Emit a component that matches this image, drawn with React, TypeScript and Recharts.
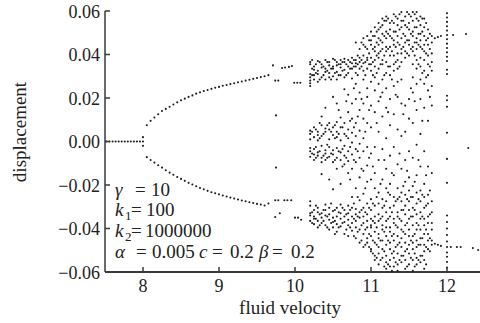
import React from "react";
import { ScatterChart, Scatter, XAxis, YAxis } from "recharts";

// ---- data ----
const xTicks = [8, 9, 10, 11, 12];
const yTicks = [-0.06, -0.04, -0.02, 0, 0.02, 0.04, 0.06];

const fixedVelocity = [7.52, 7.56, 7.6, 7.64, 7.68, 7.72, 7.76, 7.8, 7.84, 7.88, 7.92, 7.96, 8.0, 8.0, 8.0];
const fixedDisplacement = [0, 0, 0, 0, 0, 0, 0, 0, 0, 0, 0, 0, 0.002, 0, -0.002];

const branchVelocity = [
  8.05, 8.1, 8.15, 8.2, 8.25, 8.3, 8.35, 8.4, 8.45, 8.5, 8.55, 8.6, 8.65, 8.7, 8.75, 8.8, 8.85,
  8.9, 8.95, 9.0, 9.05, 9.1, 9.15, 9.2, 9.25, 9.3, 9.35, 9.4, 9.45, 9.5, 9.55, 9.6, 9.65,
];
const upperBranch = [
  0.0075, 0.0095, 0.011, 0.0125, 0.014, 0.015, 0.016, 0.017, 0.018, 0.019, 0.0197, 0.0205, 0.0212,
  0.022, 0.0226, 0.0232, 0.0237, 0.0242, 0.0247, 0.0251, 0.0256, 0.026, 0.0264, 0.0268, 0.0272,
  0.0276, 0.028, 0.0284, 0.0288, 0.0292, 0.0296, 0.03, 0.0305,
];
const lowerBranch = [
  -0.0072, -0.0085, -0.0097, -0.0109, -0.012, -0.0132, -0.0143, -0.0153, -0.0163, -0.0172, -0.0181,
  -0.019, -0.0198, -0.0206, -0.0214, -0.022, -0.0227, -0.0233, -0.0238, -0.0243, -0.0248, -0.0253,
  -0.0258, -0.0262, -0.0267, -0.0271, -0.0275, -0.0279, -0.0283, -0.0287, -0.029, -0.0294, -0.0285,
];

const transitionVelocity = [
  9.71, 9.74, 9.78, 9.83, 9.87, 9.92, 9.96, 9.99, 10.03, 10.07, 9.75, 9.75,
  9.74, 9.78, 9.86, 9.9, 9.95, 9.74, 9.8, 10.0, 10.04, 10.08,
];
const transitionDisplacement = [
  0.035, 0.028, 0.028, 0.0338, 0.034, 0.0343, 0.0347, 0.027, 0.027, 0.027, 0.012, -0.012,
  -0.027, -0.027, -0.027, -0.027, -0.027, -0.0347, -0.033, -0.035, -0.035, -0.036,
];

const chaosVelocity = [
  10.2, 10.25, 10.3, 10.35, 10.4, 10.45, 10.5, 10.55, 10.6, 10.65, 10.7, 10.75, 10.8, 10.85, 10.9,
  10.95, 11.0, 11.05, 11.1, 11.15, 11.2, 11.25, 11.3, 11.35, 11.4, 11.45, 11.5, 11.55, 11.6, 11.65,
  11.7, 11.75, 11.8,
];
const chaosDisplacement = [
  [0.0365, 0.0355, 0.031, 0.0295, 0.028, 0.0268, 0.0255, 0.005, 0.0035, 0.001, -0.003, -0.0045, -0.007, -0.0275, -0.0295, -0.033, -0.034, -0.0365],
  [0.0345, 0.033, 0.0305, 0.0285, 0.0065, 0.002, -0.0035, -0.006, -0.0085, -0.0315, -0.0345, -0.0355, -0.038],
  [0.037, 0.0325, 0.031, 0.0275, 0.0045, 0.003, 0.0005, -0.005, -0.0065, -0.0305, -0.0325, -0.0365, -0.0395],
  [0.0355, 0.034, 0.0295, 0.0115, 0.0075, 0.0025, -0.002, -0.0075, -0.0095, -0.015, -0.033, -0.035, -0.0375],
  [0.0375, 0.0335, 0.032, 0.0285, 0.0155, 0.006, 0.0045, -0.004, -0.0055, -0.0085, -0.029, -0.0315, -0.034, -0.0385],
  [0.0365, 0.035, 0.0315, 0.0295, 0.0085, 0.0055, 0.001, -0.0025, -0.007, -0.0175, -0.0305, -0.0335, -0.036, -0.0405],
  [0.038, 0.0345, 0.0335, 0.03, 0.0205, 0.0065, 0.003, -0.004, -0.006, -0.0095, -0.022, -0.032, -0.035, -0.037, -0.0395],
  [0.0365, 0.035, 0.032, 0.0285, 0.0175, 0.009, 0.0045, 0.002, -0.003, -0.0075, -0.0125, -0.0305, -0.0345, -0.038, -0.0415],
  [0.0375, 0.0355, 0.034, 0.0305, 0.011, 0.0065, 0.0005, -0.005, -0.0085, -0.0195, -0.029, -0.033, -0.0355, -0.039],
  [0.038, 0.0365, 0.033, 0.0295, 0.024, 0.0085, 0.0035, -0.002, -0.0065, -0.0105, -0.0315, -0.0345, -0.037, -0.0425],
  [0.0375, 0.0345, 0.0315, 0.0215, 0.0135, 0.0055, 0.0015, -0.0045, -0.009, -0.0145, -0.0295, -0.033, -0.036, -0.0385, -0.0435],
  [0.0385, 0.036, 0.0335, 0.029, 0.0175, 0.0105, 0.004, -0.0005, -0.006, -0.0125, -0.0255, -0.0305, -0.0345, -0.0375, -0.041],
  [0.0455, 0.0375, 0.036, 0.0345, 0.0315, 0.0265, 0.0195, 0.0085, 0.0025, -0.0035, -0.0095, -0.0215, -0.031, -0.0335, -0.0365, -0.0395, -0.0445],
  [0.0425, 0.0385, 0.0365, 0.0335, 0.0225, 0.0145, 0.005, -0.001, -0.0075, -0.0165, -0.027, -0.0325, -0.035, -0.0405, -0.0465],
  [0.0475, 0.0445, 0.0395, 0.036, 0.0325, 0.0285, 0.0175, 0.0105, 0.0015, -0.0045, -0.0135, -0.024, -0.0305, -0.0345, -0.0375, -0.0425, -0.0485],
  [0.0485, 0.0425, 0.0385, 0.0375, 0.0335, 0.0245, 0.0205, 0.0085, -0.0025, -0.011, -0.0185, -0.0285, -0.0335, -0.0365, -0.0395, -0.0445, -0.0465],
  [0.0505, 0.0465, 0.0445, 0.0385, 0.0355, 0.0325, 0.0275, 0.0165, 0.0065, -0.0055, -0.0175, -0.0265, -0.0315, -0.0355, -0.0385, -0.0395, -0.0435, -0.0495, -0.0505],
  [0.0525, 0.0485, 0.0435, 0.0415, 0.0375, 0.0345, 0.0295, 0.0235, 0.0135, -0.0025, -0.0145, -0.0215, -0.0295, -0.0345, -0.0375, -0.0415, -0.0465, -0.0525, -0.0545],
  [0.0545, 0.0515, 0.0475, 0.0445, 0.0405, 0.0385, 0.0335, 0.0265, 0.0185, 0.0045, -0.0085, -0.0235, -0.0285, -0.0335, -0.0365, -0.0425, -0.0445, -0.0485, -0.0515, -0.0565],
  [0.0565, 0.0535, 0.0495, 0.0455, 0.0425, 0.0375, 0.0355, 0.0285, 0.0225, 0.0115, -0.0035, -0.0175, -0.0265, -0.0305, -0.0345, -0.0385, -0.0405, -0.0455, -0.0495, -0.0535],
  [0.0575, 0.0555, 0.0505, 0.0475, 0.0435, 0.0415, 0.0365, 0.0315, 0.0245, 0.0155, 0.0015, -0.0125, -0.0215, -0.0275, -0.0325, -0.0365, -0.0395, -0.0435, -0.0475, -0.0525, -0.0555, -0.0585],
  [0.0545, 0.0515, 0.0485, 0.0435, 0.0395, 0.0345, 0.0305, 0.0195, 0.0075, -0.0065, -0.0195, -0.0245, -0.0305, -0.0345, -0.0395, -0.0415, -0.0465, -0.0495, -0.0545, -0.0575],
  [0.0585, 0.0545, 0.0505, 0.0465, 0.0445, 0.0395, 0.0355, 0.0325, 0.0255, 0.0125, -0.0025, -0.0155, -0.0255, -0.0295, -0.0355, -0.0375, -0.0425, -0.0455, -0.0505, -0.0535, -0.0575],
  [0.0565, 0.0535, 0.0485, 0.0455, 0.0405, 0.0375, 0.0335, 0.0275, 0.0205, 0.0055, -0.0105, -0.0215, -0.0265, -0.0325, -0.0345, -0.0395, -0.0435, -0.0475, -0.0515, -0.0565, -0.0595],
  [0.0595, 0.0555, 0.0525, 0.0475, 0.0425, 0.0405, 0.0365, 0.0285, 0.0175, 0.0025, -0.0125, -0.0235, -0.0275, -0.0315, -0.0365, -0.0405, -0.0445, -0.0485, -0.0525, -0.0555],
  [0.0575, 0.0535, 0.0485, 0.0455, 0.0415, 0.0385, 0.0165, 0.0045, -0.0085, -0.0185, -0.0245, -0.0295, -0.0335, -0.0385, -0.0425, -0.0465, -0.0505, -0.0545, -0.0585],
  [0.0585, 0.0545, 0.0515, 0.0465, 0.0445, 0.0395, 0.0195, 0.0105, -0.0045, -0.0165, -0.0225, -0.0275, -0.0315, -0.0355, -0.0405, -0.0435, -0.0475, -0.0515, -0.0565],
  [0.0595, 0.0555, 0.0505, 0.0485, 0.0435, 0.0415, 0.0355, 0.0295, 0.0225, 0.0085, -0.0075, -0.0205, -0.0255, -0.0305, -0.0345, -0.0385, -0.0435, -0.0465, -0.0495, -0.0545, -0.0595],
  [0.0595, 0.0565, 0.0525, 0.0475, 0.0455, 0.0425, 0.0375, 0.0335, 0.0265, 0.0145, -0.0015, -0.0155, -0.0235, -0.0285, -0.0335, -0.0375, -0.0405, -0.0455, -0.0485, -0.0535, -0.0565],
  [0.0575, 0.0535, 0.0495, 0.0465, 0.0435, 0.0385, 0.0345, 0.0285, 0.0195, 0.0035, -0.0115, -0.0225, -0.0275, -0.0325, -0.0355, -0.0405, -0.0445, -0.0475, -0.0525, -0.0555],
  [0.0565, 0.0525, 0.0485, 0.0445, 0.0415, 0.0375, 0.0325, 0.0265, 0.0155, -0.0045, -0.0195, -0.0255, -0.0305, -0.0355, -0.0385, -0.0425, -0.0475, -0.0505, -0.0545, -0.0585],
  [0.0515, 0.0475, 0.0445, 0.0395, 0.0355, 0.0305, 0.0235, 0.0095, -0.0115, -0.0245, -0.0285, -0.0345, -0.0375, -0.0425, -0.0455, -0.0495],
  [0.0485, 0.0455, 0.0405, 0.0365, 0.0325, 0.0255, 0.0165, -0.0145, -0.0275, -0.0325, -0.0375, -0.0405, -0.0455, -0.0475],
];

const denseVelocity = [
  10.225, 10.275, 10.325, 10.375, 10.425, 10.475, 10.525, 10.575, 10.625, 10.675, 10.725, 10.775,
  10.825, 10.875, 10.925, 10.975, 11.025, 11.075, 11.125, 11.175, 11.225, 11.275, 11.325, 11.375,
  11.425, 11.475, 11.525, 11.575, 11.625, 11.675, 11.725, 11.775,
];
const denseDisplacement = [
  [0.0375, 0.0335, 0.0305, 0.0045, -0.0055, -0.0325, -0.0375],
  [0.0355, 0.0315, 0.0055, -0.0025, -0.0075, -0.0295, -0.0355],
  [0.0365, 0.0285, 0.0085, 0.0015, -0.0045, -0.0335, -0.0385],
  [0.0345, 0.0305, 0.0035, -0.0065, -0.0315, -0.0365],
  [0.0365, 0.0325, 0.0075, -0.0015, -0.0075, -0.0345, -0.0395],
  [0.0335, 0.0285, 0.0045, -0.0055, -0.0285, -0.0375],
  [0.0375, 0.0315, 0.0075, 0.0015, -0.0085, -0.0315, -0.0365, -0.0425],
  [0.0355, 0.0305, 0.0145, 0.0035, -0.0045, -0.0325, -0.0395],
  [0.0365, 0.0325, 0.0065, -0.0035, -0.0115, -0.0305, -0.0375],
  [0.0355, 0.0305, 0.0185, 0.0025, -0.0075, -0.0335, -0.0405],
  [0.0365, 0.0335, 0.0095, -0.0025, -0.0175, -0.0315, -0.0395],
  [0.0375, 0.0345, 0.0245, 0.0065, -0.0085, -0.0285, -0.0355, -0.0435],
  [0.0395, 0.0355, 0.0305, 0.0115, -0.0045, -0.0255, -0.0345, -0.0415],
  [0.0455, 0.0375, 0.0345, 0.0195, -0.0125, -0.0315, -0.0385, -0.0455],
  [0.0435, 0.0365, 0.0305, 0.0045, -0.0215, -0.0325, -0.0405, -0.0475],
  [0.0465, 0.0405, 0.0355, 0.0145, -0.0075, -0.0305, -0.0425, -0.0485],
  [0.0485, 0.0425, 0.0365, 0.0305, -0.0115, -0.0285, -0.0365, -0.0455, -0.0515],
  [0.0505, 0.0455, 0.0395, 0.0315, 0.0085, -0.0255, -0.0395, -0.0475, -0.0535],
  [0.0525, 0.0465, 0.0415, 0.0355, 0.0205, -0.0195, -0.0355, -0.0455, -0.0545],
  [0.0555, 0.0485, 0.0395, 0.0305, -0.0085, -0.0295, -0.0415, -0.0505, -0.0575],
  [0.0565, 0.0495, 0.0425, 0.0345, 0.0135, -0.0235, -0.0355, -0.0455, -0.0565],
  [0.0555, 0.0475, 0.0415, 0.0285, -0.0145, -0.0325, -0.0435, -0.0515, -0.0595],
  [0.0575, 0.0505, 0.0435, 0.0365, 0.0215, -0.0275, -0.0385, -0.0485, -0.0555],
  [0.0585, 0.0515, 0.0445, 0.0345, -0.0055, -0.0255, -0.0355, -0.0465, -0.0545],
  [0.0555, 0.0495, 0.0435, 0.0125, -0.0205, -0.0315, -0.0415, -0.0525],
  [0.0595, 0.0525, 0.0465, 0.0405, -0.0135, -0.0265, -0.0375, -0.0495, -0.0575],
  [0.0575, 0.0495, 0.0425, 0.0245, -0.0255, -0.0345, -0.0455, -0.0535],
  [0.0585, 0.0525, 0.0455, 0.0395, 0.0185, -0.0185, -0.0315, -0.0425, -0.0515, -0.0575],
  [0.0555, 0.0495, 0.0445, 0.0355, -0.0085, -0.0265, -0.0385, -0.0475, -0.0545],
  [0.0565, 0.0505, 0.0425, 0.0315, 0.0095, -0.0245, -0.0345, -0.0445, -0.0525],
  [0.0545, 0.0465, 0.0405, 0.0295, -0.0155, -0.0295, -0.0405, -0.0485, -0.0565],
  [0.0495, 0.0425, 0.0345, 0.0205, -0.0225, -0.0335, -0.0445, -0.0505],
];

const edgeVelocity = 12.0;
const edgeDisplacement = [
  0.059, 0.057, 0.055, 0.053, 0.051, 0.049, 0.047, 0.045, 0.043, 0.041, 0.039, 0.037, 0.033, 0.031,
  0.021, 0.019, 0.016, 0.004, -0.008, -0.019, -0.034, -0.037, -0.04, -0.043, -0.046, -0.0485,
  -0.051, -0.053, -0.0554, -0.058,
];

const tailVelocity = [11.84, 11.88, 11.92, 12.08, 12.25, 11.84, 11.88, 11.92, 12.05, 12.13, 12.18, 12.34, 12.41, 12.28];
const tailDisplacement = [0.0475, 0.048, 0.0485, 0.049, 0.0494, -0.047, -0.0475, -0.048, -0.0485, -0.0485, -0.0485, -0.049, -0.0499, -0.003];

// ---- build point tables ----
const zip = (vs: number[], ds: number[]) => vs.map((v, i) => ({ v, d: ds[i] }));
const columns = (vs: number[], ds: number[][]) => vs.flatMap((v, i) => ds[i].map((d) => ({ v, d })));
const fixedPoints = zip(fixedVelocity, fixedDisplacement);
const upperPoints = zip(branchVelocity, upperBranch);
const lowerPoints = zip(branchVelocity, lowerBranch);
const transitionPoints = zip(transitionVelocity, transitionDisplacement);
const chaosPoints = columns(chaosVelocity, chaosDisplacement);
const densePoints = columns(denseVelocity, denseDisplacement);
const edgePoints = edgeDisplacement.map((d) => ({ v: edgeVelocity, d }));
const tailPoints = zip(tailVelocity, tailDisplacement);

const FONT = "Liberation Serif";
const AXIS = "#3a3a3a";
const INK = "#222";

const Dot = (props: any) => {
  const { cx, cy } = props;
  if (cx == null || cy == null) return null;
  return <circle cx={cx} cy={cy} r={1.05} fill="#1e1e1e" />;
};

const fmtY = (v: number) => {
  const s = Math.abs(v).toFixed(2);
  return v < -1e-9 ? "\u2212" + s : s;
};

const BottomTick = (props: any) => {
  const { x, y, payload } = props;
  return (
    <g>
      <line x1={x} x2={x} y1={y} y2={y - 5} stroke={AXIS} strokeWidth={1.5} />
      <text x={x} y={y + 20} textAnchor="middle" fontFamily={FONT} fontSize={18} fill={INK}>
        {payload.value}
      </text>
    </g>
  );
};

const TopTick = (props: any) => {
  const { x, y } = props;
  return <line x1={x} x2={x} y1={y} y2={y + 5} stroke={AXIS} strokeWidth={1.5} />;
};

const LeftTick = (props: any) => {
  const { x, y, payload } = props;
  return (
    <g>
      <line x1={x} x2={x + 5} y1={y} y2={y} stroke={AXIS} strokeWidth={1.5} />
      <text x={x - 5} y={y + 6.5} textAnchor="end" fontFamily={FONT} fontSize={18} fill={INK}>
        {fmtY(payload.value)}
      </text>
    </g>
  );
};

const T = (p: { x: number; y: number; s?: number; it?: boolean; children: React.ReactNode }) => (
  <text
    x={p.x}
    y={p.y}
    fontFamily={FONT}
    fontSize={p.s ?? 19}
    fontStyle={p.it ? "italic" : "normal"}
    fill={INK}
  >
    {p.children}
  </text>
);

const series = [fixedPoints, upperPoints, lowerPoints, transitionPoints, chaosPoints, densePoints, edgePoints, tailPoints];

export default function App() {
  return (
    <div style={{ position: "absolute", left: 0, top: 0, width: 480, height: 323, overflow: "hidden", background: "#fff" }}>
      <ScatterChart width={530} height={323} margin={{ top: 11, right: 7, bottom: 0, left: 0 }}>
        <XAxis
          xAxisId="bottom"
          type="number"
          dataKey="v"
          domain={[7.5, 13]}
          ticks={xTicks}
          allowDataOverflow
          height={51}
          tickSize={0}
          tickMargin={0}
          tickLine={false}
          axisLine={{ stroke: AXIS, strokeWidth: 2 }}
          tick={<BottomTick />}
          interval={0}
        />
        <XAxis
          xAxisId="top"
          orientation="top"
          type="number"
          dataKey="v"
          domain={[7.5, 13]}
          ticks={xTicks}
          allowDataOverflow
          height={0}
          tickSize={0}
          tickMargin={0}
          tickLine={false}
          axisLine={{ stroke: AXIS, strokeWidth: 2 }}
          tick={<TopTick />}
          interval={0}
        />
        <YAxis
          type="number"
          dataKey="d"
          domain={[-0.06, 0.06]}
          ticks={yTicks}
          allowDataOverflow
          width={105}
          tickSize={0}
          tickMargin={0}
          tickLine={false}
          axisLine={{ stroke: AXIS, strokeWidth: 1.5 }}
          tick={<LeftTick />}
          interval={0}
        />
        {series.map((data, i) => (
          <Scatter key={i} xAxisId="bottom" data={data} shape={<Dot />} isAnimationActive={false} />
        ))}
        <text x={290} y={314} textAnchor="middle" fontFamily={FONT} fontSize={19} fill={INK}>
          fluid velocity
        </text>
        <text
          x={26}
          y={132}
          textAnchor="middle"
          fontFamily={FONT}
          fontSize={19}
          fill={INK}
          transform="rotate(-90 26 132)"
        >
          displacement
        </text>
        {/* annotation block */}
        <T x={115} y={196} it>γ</T>
        <T x={135} y={196}>=</T>
        <T x={151} y={196}>10</T>

        <T x={115} y={216} it>k</T>
        <T x={125} y={220} s={13}>1</T>
        <T x={131} y={216}>=</T>
        <T x={146} y={216}>100</T>

        <T x={115} y={237} it>k</T>
        <T x={125} y={241} s={13}>2</T>
        <T x={131} y={237}>=</T>
        <T x={145} y={237}>1000000</T>

        <T x={115} y={258} it>α</T>
        <T x={136} y={258}>=</T>
        <T x={152} y={258}>0.005</T>
        <T x={199} y={258} it>c</T>
        <T x={212} y={258}>=</T>
        <T x={230} y={258}>0.2</T>
        <T x={259} y={258} it>β</T>
        <T x={272} y={258}>=</T>
        <T x={291} y={258}>0.2</T>
      </ScatterChart>
    </div>
  );
}
